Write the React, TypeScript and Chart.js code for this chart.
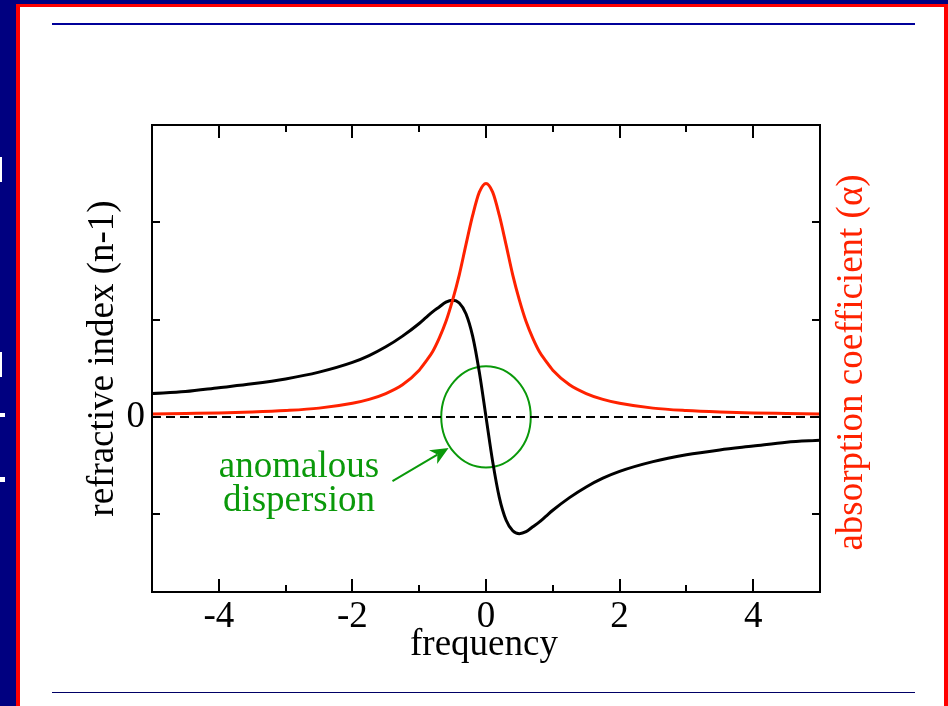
import { useEffect, useRef } from "react";
import { Chart, registerables } from "chart.js";

Chart.register(...registerables);

// ---- data ----
const frequency = [
  -5, -4.5, -4, -3.5, -3, -2.5, -2, -1.75, -1.5, -1.25, -1, -0.9, -0.8, -0.7, -0.6, -0.5, -0.4, -0.3, -0.2, -0.1,
  0, 0.1, 0.2, 0.3, 0.4, 0.5, 0.6, 0.7, 0.8, 0.9, 1, 1.25, 1.5, 1.75, 2, 2.5, 3, 3.5, 4, 4.5, 5,
];
const refractiveIndex = [
  0.24, 0.26, 0.3, 0.34, 0.39, 0.46, 0.56, 0.63, 0.72, 0.83, 0.96, 1.02, 1.08, 1.13, 1.18, 1.2, 1.17, 1.06, 0.83, 0.46,
  0, -0.46, -0.83, -1.06, -1.17, -1.2, -1.18, -1.13, -1.08, -1.02, -0.96, -0.83, -0.72, -0.63, -0.56, -0.46, -0.39, -0.34, -0.3, -0.26, -0.24,
];
const absorption = [
  0.03, 0.035, 0.04, 0.05, 0.065, 0.09, 0.14, 0.18, 0.24, 0.33, 0.48, 0.57, 0.67, 0.81, 0.98, 1.2, 1.46, 1.77, 2.07, 2.31,
  2.4, 2.31, 2.07, 1.77, 1.46, 1.2, 0.98, 0.81, 0.67, 0.57, 0.48, 0.33, 0.24, 0.18, 0.14, 0.09, 0.065, 0.05, 0.04, 0.035, 0.03,
];
const zeroLine = [-5, 5];

const xRange = [-5, 5];
const yRange = [-1.8, 3];
const xMajorTicks = [-4, -2, 0, 2, 4];
const xMinorTicks = [-3, -1, 1, 3];
const yTicks = [-1, 0, 1, 2];
const yLabelTicks = [0];

const leftTitle = "refractive index (n-1)";
const rightTitle = "absorption coefficient (α)";
const xTitle = "frequency";
const noteLines = ["anomalous", "dispersion"];
const noteAnchor = [-2.8, -0.62];
const noteLineStep = 0.35;
const arrowFrom = [-1.4, -0.66];
const arrowTo = [-0.56, -0.32];
const ellipseCenter = [0, 0];
const ellipseRadii = [0.67, 0.52];

const BLACK = "#000000";
const RED = "#ff2200";
const GREEN = "#0a990a";
const FONT = '"Liberation Serif", "Times New Roman", serif';

const decor = {
  id: "decor",
  beforeDatasetsDraw(chart: any) {
    const { ctx, scales } = chart;
    const x = scales.x, y = scales.y;
    const cx = x.getPixelForValue(ellipseCenter[0]);
    const cy = y.getPixelForValue(ellipseCenter[1]);
    const rx = Math.abs(x.getPixelForValue(ellipseCenter[0] + ellipseRadii[0]) - cx);
    const ry = Math.abs(y.getPixelForValue(ellipseCenter[1] + ellipseRadii[1]) - cy);
    ctx.save();
    ctx.strokeStyle = GREEN;
    ctx.lineWidth = 2;
    ctx.beginPath();
    ctx.ellipse(cx, cy, rx, ry, 0, 0, Math.PI * 2);
    ctx.stroke();
    ctx.restore();
  },
  afterDraw(chart: any) {
    const { ctx, chartArea: a, scales } = chart;
    const x = scales.x, y = scales.y;
    ctx.save();
    // frame
    ctx.strokeStyle = BLACK;
    ctx.lineWidth = 2;
    ctx.strokeRect(a.left, a.top, a.right - a.left, a.bottom - a.top);
    // ticks
    ctx.beginPath();
    const xt = (v: number, len: number) => {
      const px = Math.round(x.getPixelForValue(v));
      ctx.moveTo(px, a.bottom);
      ctx.lineTo(px, a.bottom - len);
      ctx.moveTo(px, a.top);
      ctx.lineTo(px, a.top + len);
    };
    xMajorTicks.forEach((v) => xt(v, 13));
    xMinorTicks.forEach((v) => xt(v, 7));
    yTicks.forEach((v) => {
      const py = Math.round(y.getPixelForValue(v));
      ctx.moveTo(a.left, py);
      ctx.lineTo(a.left + 8, py);
      ctx.moveTo(a.right, py);
      ctx.lineTo(a.right - 8, py);
    });
    ctx.stroke();

    // titles
    ctx.font = `37px ${FONT}`;
    ctx.textAlign = "center";
    ctx.textBaseline = "alphabetic";
    ctx.fillStyle = BLACK;
    ctx.save();
    ctx.translate(a.left - 39, (a.top + a.bottom) / 2);
    ctx.rotate(-Math.PI / 2);
    ctx.fillText(leftTitle, 0, 0);
    ctx.restore();

    ctx.save();
    ctx.fillStyle = RED;
    ctx.translate(a.right + 42, (a.top + a.bottom) / 2 + 4);
    ctx.rotate(-Math.PI / 2);
    ctx.fillText(rightTitle, 0, 0);
    ctx.restore();

    ctx.fillText(xTitle, (a.left + a.right) / 2 - 2, a.bottom + 63);

    // note
    ctx.fillStyle = GREEN;
    noteLines.forEach((t, i) => {
      ctx.fillText(t, x.getPixelForValue(noteAnchor[0]), y.getPixelForValue(noteAnchor[1] - i * noteLineStep));
    });

    // arrow
    const x0 = x.getPixelForValue(arrowFrom[0]), y0 = y.getPixelForValue(arrowFrom[1]);
    const x1 = x.getPixelForValue(arrowTo[0]), y1 = y.getPixelForValue(arrowTo[1]);
    const ang = Math.atan2(y1 - y0, x1 - x0);
    const headLen = 18, headW = 8, notch = 5;
    const ux = Math.cos(ang), uy = Math.sin(ang);
    const bx = x1 - ux * headLen, by = y1 - uy * headLen;
    ctx.strokeStyle = GREEN;
    ctx.lineWidth = 2;
    ctx.beginPath();
    ctx.moveTo(x0, y0);
    ctx.lineTo(bx + ux * notch, by + uy * notch);
    ctx.stroke();
    ctx.beginPath();
    ctx.moveTo(x1, y1);
    ctx.lineTo(bx - uy * headW, by + ux * headW);
    ctx.lineTo(bx + ux * notch, by + uy * notch);
    ctx.lineTo(bx + uy * headW, by - ux * headW);
    ctx.closePath();
    ctx.fillStyle = GREEN;
    ctx.fill();
    ctx.restore();
  },
};

export default function App() {
  const ref = useRef<HTMLCanvasElement | null>(null);
  useEffect(() => {
    if (!ref.current) return;
    const pts = (ys: number[]) => frequency.map((f, i) => ({ x: f, y: ys[i] }));
    const chart = new Chart(ref.current, {
      type: "line",
      data: {
        datasets: [
          {
            data: zeroLine.map((v) => ({ x: v, y: 0 })),
            borderColor: BLACK,
            borderWidth: 2,
            borderDash: [9, 5],
            pointRadius: 0,
            order: 3,
          },
          {
            data: pts(refractiveIndex),
            borderColor: BLACK,
            borderWidth: 3,
            pointRadius: 0,
            cubicInterpolationMode: "monotone",
            order: 2,
          },
          {
            data: pts(absorption),
            borderColor: RED,
            borderWidth: 3,
            pointRadius: 0,
            cubicInterpolationMode: "monotone",
            order: 1,
          },
        ],
      },
      options: {
        responsive: false,
        animation: false,
        events: [],
        layout: { padding: { top: 125, right: 128, bottom: 0, left: 0 } },
        plugins: { legend: { display: false }, tooltip: { enabled: false } },
        scales: {
          x: {
            type: "linear",
            min: xRange[0],
            max: xRange[1],
            grid: { display: false, drawTicks: false },
            border: { display: false },
            afterBuildTicks: (s: any) => {
              s.ticks = xMajorTicks.map((v) => ({ value: v }));
            },
            afterFit: (s: any) => {
              s.height = 114;
            },
            ticks: {
              padding: 3,
              color: BLACK,
              font: { family: FONT, size: 37 },
              maxRotation: 0,
              autoSkip: false,
              callback: (v: any) => String(v),
            },
          },
          y: {
            type: "linear",
            min: yRange[0],
            max: yRange[1],
            grid: { display: false, drawTicks: false },
            border: { display: false },
            afterBuildTicks: (s: any) => {
              s.ticks = yLabelTicks.map((v) => ({ value: v }));
            },
            afterFit: (s: any) => {
              s.width = 152;
            },
            ticks: {
              padding: 7,
              color: BLACK,
              font: { family: FONT, size: 37 },
              callback: (v: any) => String(v),
            },
          },
        },
      },
      plugins: [decor],
    } as any);
    return () => chart.destroy();
  }, []);

  const whiteMarks = [
    [157, 25, 2],
    [352, 25, 2],
    [413, 4, 5],
    [477, 5, 5],
  ];

  return (
    <div style={{ position: "fixed", left: 0, top: 0, width: 948, height: 706, overflow: "hidden", background: "#000080" }}>
      {whiteMarks.map(([t, h, w], i) => (
        <div key={i} style={{ position: "absolute", left: 0, top: t, width: w, height: h, background: "#ffffff" }} />
      ))}
      <div
        style={{
          position: "absolute",
          left: 16,
          top: 4,
          width: 924,
          height: 800,
          background: "#ffffff",
          borderLeft: "4px solid #ff0000",
          borderRight: "4px solid #ff0000",
          borderTop: "3px solid #ff0000",
        }}
      />
      <div style={{ position: "absolute", left: 52, top: 23, width: 863, height: 2, background: "#000099" }} />
      <div style={{ position: "absolute", left: 52, top: 692, width: 863, height: 1, background: "#000066" }} />
      <canvas ref={ref} width={948} height={706} style={{ position: "absolute", left: 0, top: 0, width: 948, height: 706 }} />
    </div>
  );
}
